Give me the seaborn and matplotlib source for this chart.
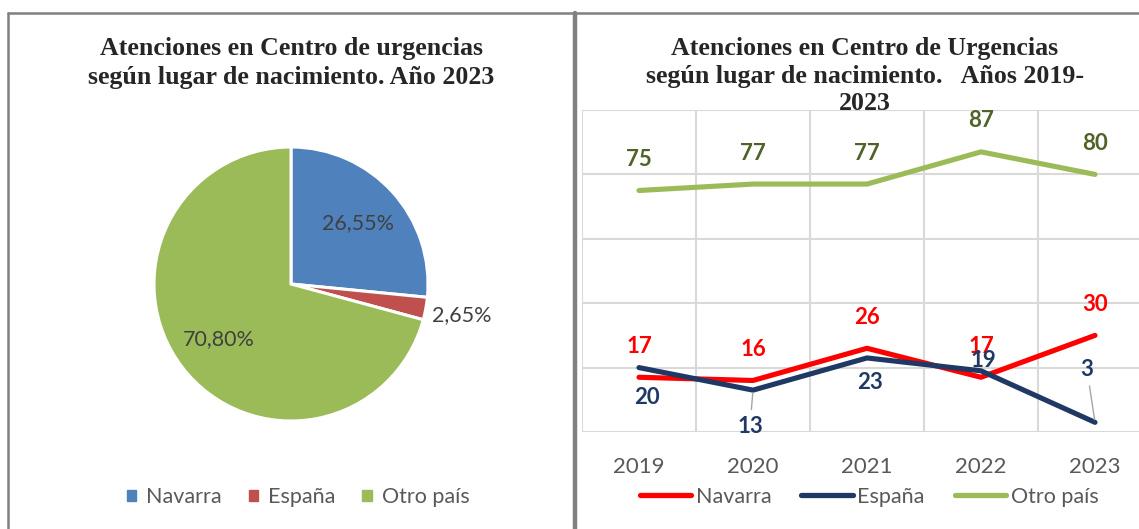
import matplotlib
matplotlib.use("Agg")
import matplotlib.pyplot as plt
from matplotlib.lines import Line2D
import numpy as np
import pandas as pd
import seaborn as sns

# pie data (2023)
pie_labels = ["Navarra", "España", "Otro país"]
pie_values = [26.55, 2.65, 70.80]
pie_colors = ["#4F81BD", "#C0504D", "#9BBB59"]

# line data (2019-2023)
years = ["2019", "2020", "2021", "2022", "2023"]
navarra = [17, 16, 26, 17, 30]
espana = [20, 13, 23, 19, 3]
otro_pais = [75, 77, 77, 87, 80]

line_colors = {"Navarra": "#FF0000", "España": "#1F3864", "Otro país": "#9BBB59"}
label_colors = {"Navarra": "#FF0000", "España": "#1F3864", "Otro país": "#4F6228"}

sns.set_style("white")
plt.rcParams["font.family"] = ["Lato", "DejaVu Sans"]

W, H = 1139, 529
fig = plt.figure(figsize=(W / 100, H / 100), dpi=100)

def fx(px):
    return px / W

def fy(py):
    return 1 - py / H

TITLE_FONT = dict(family=["Liberation Serif", "DejaVu Serif"], weight="bold", size=18.6)
GREY_TXT = "#595959"

# ---- frames
frame = "#808080"
fig.add_artist(Line2D([fx(8), 1], [fy(13), fy(13)], color=frame, lw=1.8))
fig.add_artist(Line2D([fx(8), fx(8)], [fy(13), 0], color=frame, lw=1.8))
fig.add_artist(Line2D([fx(575), fx(575)], [fy(13), 0], color=frame, lw=3.2))

# ---- left: pie
R = 137
half = 1.35 * R
ax_pie = fig.add_axes([fx(291 - half), fy(284 + half), half * 2 / W, half * 2 / H])
wedges, texts, autotexts = ax_pie.pie(
    pie_values, colors=pie_colors, startangle=90, counterclock=False,
    autopct=lambda p: f"{p:.2f}%".replace(".", ","), pctdistance=0.66,
    wedgeprops=dict(edgecolor="white", linewidth=2.2),
    textprops=dict(color="#404040", fontsize=15.5),
)
ax_pie.set_xlim(-1.35, 1.35)
ax_pie.set_ylim(-1.35, 1.35)
ax_pie.set_aspect("equal")
# small slice label sits outside
w = wedges[1]
mid = np.deg2rad((w.theta1 + w.theta2) / 2)
autotexts[1].set_position((1.27 * np.cos(mid), 1.27 * np.sin(mid)))

fig.text(fx(291), fy(63), "Atenciones en Centro de urgencias\nsegún lugar de nacimiento. Año 2023",
         ha="center", va="center", linespacing=1.32, **TITLE_FONT)

pie_handles = [plt.Rectangle((0, 0), 1, 1, color=c) for c in pie_colors]
fig.legend(pie_handles, pie_labels, loc="center", bbox_to_anchor=(fx(298), fy(497)),
           ncol=3, frameon=False, fontsize=15.5, handlelength=0.45, handleheight=0.45,
           handletextpad=0.45, columnspacing=1.25, labelcolor=GREY_TXT)

# ---- right: lines
df = pd.DataFrame({
    "year": years * 3,
    "value": navarra + espana + otro_pais,
    "origen": ["Navarra"] * 5 + ["España"] * 5 + ["Otro país"] * 5,
})
df["x"] = df.groupby("origen").cumcount()

ax = fig.add_axes([fx(582), fy(432), 570 / W, 322 / H])
sns.lineplot(data=df, x="x", y="value", hue="origen", palette=line_colors,
             linewidth=3.7, ax=ax, legend=False, solid_capstyle="round")
ax.set_xlim(-0.5, 4.5)
ax.set_ylim(0, 100)
ax.set_xticks(range(5))
ax.set_xticklabels(years)
ax.set_xticks(np.arange(-0.5, 5, 1), minor=True)
ax.set_yticks(range(0, 101, 20))
ax.set_yticklabels([])
ax.grid(False)
ax.grid(True, which="minor", axis="x", color="#D9D9D9", lw=1.5)
ax.grid(True, which="major", axis="y", color="#D9D9D9", lw=1.5)
ax.tick_params(axis="x", which="both", length=0, pad=18, labelsize=16, labelcolor=GREY_TXT)
ax.tick_params(axis="y", length=0)
ax.set_xlabel("")
ax.set_ylabel("")
for s in ax.spines.values():
    s.set_visible(False)

# data labels, offsets in pixels
offsets = {
    "Navarra": [(0, 31)] * 5,
    "Otro país": [(0, 31)] * 5,
    "España": [(8, -30), (-3, -36), (3, -25), (2, 10), (-8, 53)],
}
leader = {("España", 1), ("España", 4)}
for name, vals in [("Navarra", navarra), ("España", espana), ("Otro país", otro_pais)]:
    for i, v in enumerate(vals):
        dx, dy = offsets[name][i]
        arrow = None
        if (name, i) in leader:
            arrow = dict(arrowstyle="-", color="#A6A6A6", lw=1, shrinkA=2, shrinkB=2)
        ax.annotate(str(v), (i, v), xytext=(dx, dy), textcoords="offset pixels",
                    ha="center", va="center", fontsize=16, fontweight="bold",
                    color=label_colors[name], arrowprops=arrow, annotation_clip=False)

fig.text(fx(865), fy(76.5), "Atenciones en Centro de Urgencias\nsegún lugar de nacimiento.   Años 2019-\n2023",
         ha="center", va="center", linespacing=1.25, zorder=5, **TITLE_FONT)

line_handles = [Line2D([0], [0], color=line_colors[k], lw=3.8, solid_capstyle="round") for k in line_colors]
fig.legend(line_handles, list(line_colors), loc="center", bbox_to_anchor=(fx(869), fy(497)),
           ncol=3, frameon=False, fontsize=15.5, handlelength=2.4, handletextpad=0.2,
           columnspacing=1.4, labelcolor=GREY_TXT)

fig.savefig("out.png", dpi=100)
